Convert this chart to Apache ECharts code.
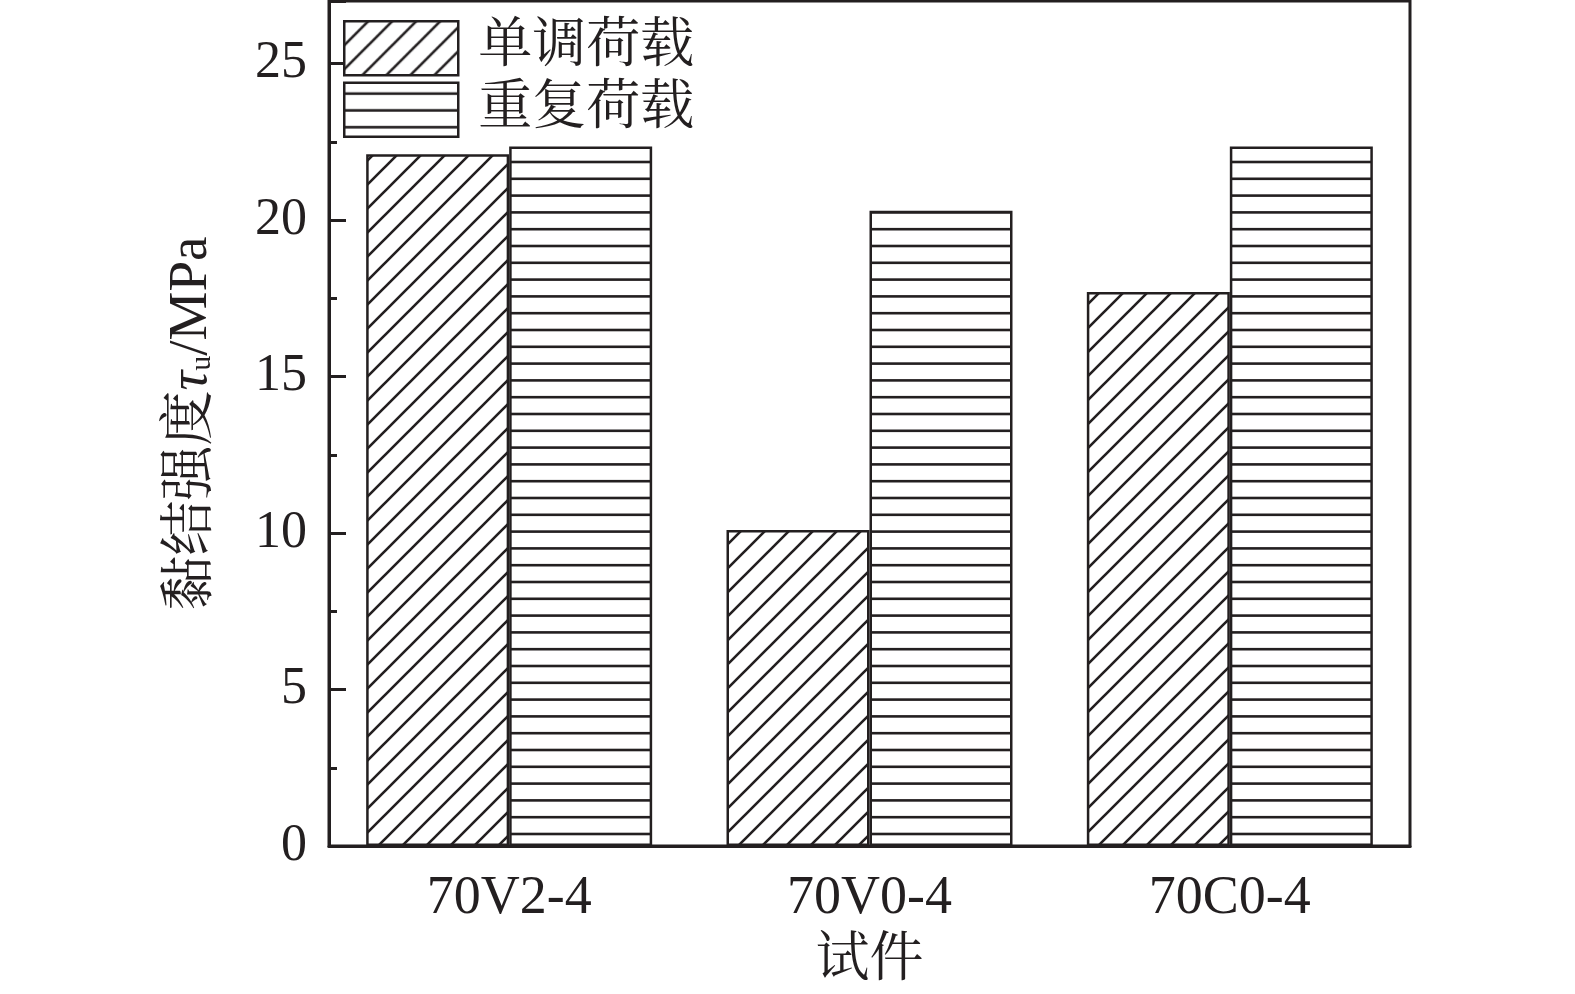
<!DOCTYPE html>
<html>
<head>
<meta charset="utf-8">
<script src="https://cdn.jsdelivr.net/npm/echarts@6/dist/echarts.min.js"></script>
<style>html,body{margin:0;padding:0;background:#fff}#c{width:1575px;height:994px}</style>
</head>
<body>
<div id="c"></div>
<script>
const categories = ['70V2-4', '70V0-4', '70C0-4'];
const seriesNames = ['单调荷载', '重复荷载'];
const monotonic = [22.1, 10.1, 17.7];
const repeated = [22.35, 20.3, 22.35];
const yMin = 0, yMax = 27, yInterval = 5, yMinorInterval = 2.5;

const INK = '#231f20';
const serif = '"Liberation Serif", "Times New Roman", serif';
const cjk = '"Liberation Serif", "Noto Serif CJK SC", "Noto Sans CJK SC", serif';

function hatchPattern() {
  const c = document.createElement('canvas');
  c.width = 24; c.height = 24;
  const g = c.getContext('2d');
  g.fillStyle = '#fff'; g.fillRect(0, 0, 24, 24);
  g.strokeStyle = INK; g.lineWidth = 2.6; g.lineCap = 'square';
  g.beginPath();
  g.moveTo(-4, 28); g.lineTo(28, -4);
  g.moveTo(-4, 4); g.lineTo(4, -4);
  g.moveTo(20, 28); g.lineTo(28, 20);
  g.stroke();
  return c;
}
function stripePattern() {
  const c = document.createElement('canvas');
  c.width = 8; c.height = 84;
  const g = c.getContext('2d');
  g.fillStyle = '#fff'; g.fillRect(0, 0, 8, 84);
  g.fillStyle = INK;
  for (let k = 0; k < 5; k++) {
    const y = 10.8 + k * 16.8;
    g.fillRect(0, y - 1.3, 8, 2.6);
  }
  return c;
}

const chart = echarts.init(document.getElementById('c'), null, {renderer: 'canvas'});
chart.setOption({
  backgroundColor: '#fff',
  animation: false,
  grid: {left: 329, right: 165, top: 1, bottom: 144, show: true, borderColor: INK, borderWidth: 3, backgroundColor: 'transparent'},
  legend: {
    orient: 'vertical', left: 343, top: 20, padding: 0, itemWidth: 114, itemHeight: 54, itemGap: 5,
    icon: 'rect',
    itemStyle: {borderColor: INK, borderWidth: 2.5},
    textStyle: {fontFamily: cjk, fontSize: 54, color: INK, padding: [0, 0, 0, 15], lineHeight: 54},
    data: seriesNames
  },
  xAxis: {
    type: 'category', data: categories,
    axisLine: {lineStyle: {color: INK, width: 3}},
    axisTick: {inside: true, length: 7, lineStyle: {color: INK, width: 3}},
    axisLabel: {fontFamily: serif, fontSize: 54, color: INK, margin: 26},
    name: '试件', nameLocation: 'middle', nameGap: 89,
    nameTextStyle: {fontFamily: cjk, fontSize: 54, color: INK}
  },
  yAxis: [{
    type: 'value', min: yMin, max: yMax, interval: yInterval,
    axisLine: {show: true, lineStyle: {color: INK, width: 3}},
    axisTick: {show: true, inside: true, length: 17, lineStyle: {color: INK, width: 3}},
    splitLine: {show: false},
    axisLabel: {fontFamily: serif, fontSize: 52, color: INK, margin: 22,
      formatter: v => (v % yInterval === 0 ? String(v) : '')},
    name: '{a|黏结强度}{t|τ}{s|u}{b|/MPa}', nameLocation: 'middle', nameGap: 110, nameRotate: 90,
    nameTextStyle: {
      color: INK,
      rich: {
        a: {fontFamily: cjk, fontSize: 55, color: INK},
        t: {fontFamily: serif, fontSize: 55, fontStyle: 'italic', color: INK},
        s: {fontFamily: serif, fontSize: 30, color: INK, padding: [22, 0, 0, 0]},
        b: {fontFamily: serif, fontSize: 55, color: INK}
      }
    }
  }, {
    type: 'value', min: yMin, max: yMax, interval: yMinorInterval, position: 'left',
    axisLine: {show: false},
    axisTick: {show: true, inside: true, length: 8, lineStyle: {color: INK, width: 3}},
    axisLabel: {show: false}, splitLine: {show: false}
  }],
  series: [{
    name: seriesNames[0], type: 'bar', data: monotonic, barWidth: 143, barGap: '0%',
    itemStyle: {color: {image: hatchPattern(), repeat: 'repeat'}, borderColor: INK, borderWidth: 2.5}
  }, {
    name: seriesNames[1], type: 'bar', data: repeated, barWidth: 143, barGap: '0%',
    itemStyle: {color: {image: stripePattern(), repeat: 'repeat'}, borderColor: INK, borderWidth: 2.5}
  }]
});
</script>
</body>
</html>
